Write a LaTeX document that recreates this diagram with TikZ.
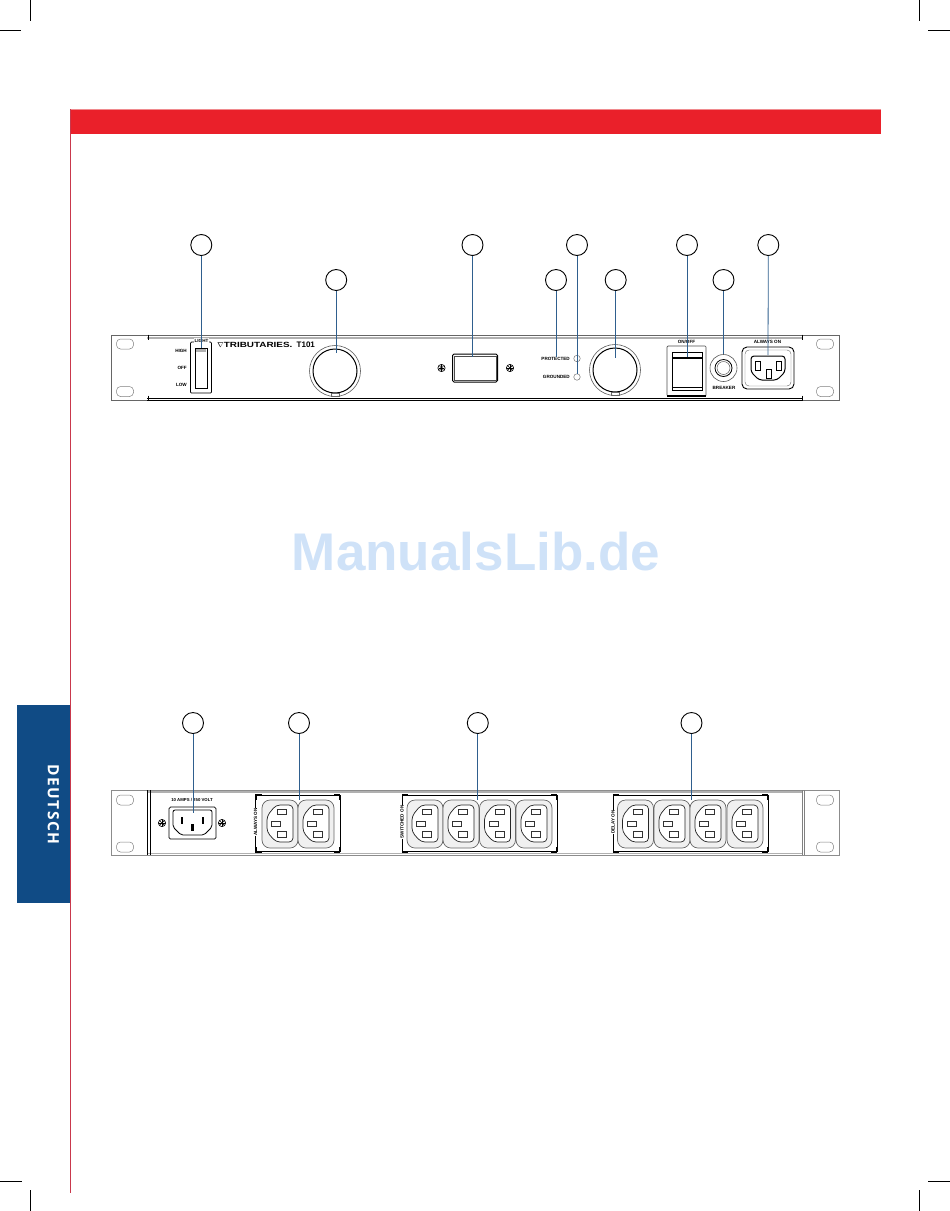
\documentclass[tikz,border=0pt]{standalone}
\usepackage{fontspec}
\setmainfont{Liberation Sans}
\newfontfamily\tabfont[LetterSpace=9]{Open Sans}
\usetikzlibrary{positioning}
\definecolor{pagered}{HTML}{EA202A}
\definecolor{palered}{HTML}{F08A8E}
\definecolor{edgered}{HTML}{C9384C}
\definecolor{tabblue}{HTML}{104B85}
\definecolor{leaderblue}{HTML}{2F5F8E}
\definecolor{markblue}{HTML}{CFE2F8}
\definecolor{rimgrey}{HTML}{B0B0B0}
\tikzset{
  callout/.style={circle,draw=black,line width=0.9pt,minimum size=21pt,inner sep=0pt},
  leader/.style={leaderblue,line width=0.8pt},
  panel/.style={draw=black!60,line width=0.7pt},
  part/.style={draw=black,line width=0.7pt},
  ring/.style={circle,draw=black!65,line width=0.6pt,inner sep=0pt},
  tiny/.style={font=\bfseries\fontsize{4.6}{5}\selectfont,inner sep=0pt},
  crop/.style={black,line width=0.7pt},
  pics/outlet/.style={code={
    \draw[draw=black!60,fill=black!6,line width=0.7pt,rounded corners=8pt] (-18,-24) rectangle (18,24);
    \draw[black!85,fill=white,line width=0.7pt,rounded corners=4pt] (-13,-8) -- (-4,-19) -- (13,-19) -- (13,18) -- (-4,18) -- (-13,8) -- cycle;
    \draw[black!80,line width=0.5pt] (-2.3,-15) rectangle (6.7,-9.5);
    \draw[black!80,line width=0.5pt] (-8.3,-3.2) rectangle (0.7,2.2);
    \draw[black!80,line width=0.5pt] (-2.3,7.7) rectangle (6.7,13);
  }},
  pics/screw/.style={code={
    \draw[line width=0.7pt] (0,0) circle (3.6);
    \draw[line width=0.7pt] (-2.6,0) -- (2.6,0) (0,-2.6) -- (0,2.6);
    \draw[line width=0.4pt] (-1.8,-1.8) -- (1.8,1.8) (-1.8,1.8) -- (1.8,-1.8);
  }},
  pics/earhole/.style={code={
    \draw[black!50,line width=0.5pt,rounded corners=4pt] (-8.5,-5) rectangle (8.5,5);
  }}
}
\begin{document}
\begin{tikzpicture}[x=1pt,y=-1pt]
\useasboundingbox (0,0) rectangle (950,1211);
% Crop marks
\draw[crop] (30.5,0) -- (30.5,21);
\draw[crop] (0,30.5) -- (21,30.5);
\draw[crop] (919.5,0) -- (919.5,21);
\draw[crop] (928,30.5) -- (950,30.5);
\draw[crop] (30.5,1190) -- (30.5,1211);
\draw[crop] (0,1181.5) -- (22,1181.5);
\draw[crop] (919.5,1190) -- (919.5,1211);
\draw[crop] (928,1181.5) -- (950,1181.5);
% Page furniture
\fill[pagered] (70,109) rectangle (880.5,134);
\draw[palered,line width=0.7pt] (70,109.5) -- (880.5,109.5);
\draw[edgered,line width=0.8pt] (70.5,109) -- (70.5,1193);
\fill[tabblue] (17,705) rectangle (70,903);
\node[white,rotate=-90,inner sep=0pt,font=\tabfont\bfseries\fontsize{15.5}{17}\selectfont] (tabtext) at (53.5,804.5) {DEUTSCH};
\node[markblue,font=\bfseries\fontsize{53}{53}\selectfont,inner sep=0pt] (watermark) at (476,552) {ManualsLib.de};
% Front panel
\draw[panel] (111,335.5) rectangle (839,400.5);
\draw[rimgrey,line width=2pt] (147,337.8) -- (802,337.8);
\draw[black,line width=0.9pt] (147,398) -- (802,398);
\draw[black,line width=0.9pt] (147,400.3) -- (802,400.3);
\foreach \x in {148,802}
  \foreach \y in {337,398} \draw[line width=0.7pt] (\x,\y-2.5) -- (\x,\y+2.5);
\foreach \x in {125,825}
  \foreach \y in {344,391.5} \pic at (\x,\y) {earhole};
% Light switch
\node[part,rounded corners=1pt,minimum width=21pt,minimum height=51pt,inner sep=0pt] (lightframe) at (201,367.5) {};
\node[part,line width=1pt,minimum width=12pt,minimum height=40pt,inner sep=0pt] (lightrocker) at (201,368) {};
\fill[rimgrey] (196,349) rectangle (206,351.5);
\node[tiny,fill=white,inner sep=0.4pt] (lightlabel) at (201.5,340.5) {LIGHT};
\node[tiny,anchor=east] (lighthigh) at (187,351) {HIGH};
\node[tiny,anchor=east] (lightoff) at (187,368) {OFF};
\node[tiny,anchor=east] (lightlow) at (187,385) {LOW};
% Logo
\node[anchor=west,inner sep=0pt,font=\bfseries\fontsize{7.5}{8}\selectfont] (logo) at (217,344.5) {$\nabla$\scalebox{1.32}[1]{TRIBUTARIES.}};
\node[anchor=west,inner sep=0pt,font=\bfseries\fontsize{8}{8}\selectfont] (model) at (296.5,344.5) {T101};
% Dimmer and meter
\node[ring,minimum size=51pt] (dimmerouter) at (335,371) {};
\node[ring,part,line width=1pt,minimum size=44pt] (dimmer) at (335,371) {};
\draw[black!60,line width=0.5pt] (331,393) rectangle (339,396);
\node[part,line width=1pt,rounded corners=1.5pt,minimum width=45pt,minimum height=28pt,inner sep=0pt] (display) at (475,368) {};
\draw[black!70,line width=0.4pt] (454,356) rectangle (496,380);
\pic at (441.5,368) {screw};
\pic at (510,368) {screw};
% Status lights
\node[tiny,anchor=east] (protectedtext) at (570,358.5) {PROTECTED};
\node[tiny,anchor=east] (groundedtext) at (570,377) {GROUNDED};
\node[ring,line width=0.4pt,minimum size=6.5pt] (protectedled) at (577,358.5) {};
\node[ring,line width=0.4pt,minimum size=6.5pt] (groundedled) at (577,377) {};
% Voltage knob
\node[ring,minimum size=51pt] (knobouter) at (615,370) {};
\node[ring,part,line width=1pt,minimum size=44pt] (knob) at (615,370) {};
\draw[black!60,line width=0.5pt] (611,392) rectangle (619,395);
% Power switch
\node[part,draw=black!70,rounded corners=1pt,minimum width=39pt,minimum height=50pt,inner sep=0pt] (powerframe) at (686.5,371) {};
\node[part,line width=0.9pt,minimum width=30pt,minimum height=38pt,inner sep=0pt] (powerrocker) at (687,371) {};
\draw[line width=1.2pt] (672,358) -- (702,358);
\draw[line width=0.7pt] (672,387) -- (702,387);
\draw[line width=1.2pt] (667,396) -- (706,396);
\node[tiny,fill=white,inner sep=0.4pt] (powerlabel) at (686.5,342) {ON/OFF};
% Breaker
\node[ring,minimum size=27pt] (breakerouter) at (723.5,368) {};
\node[ring,part,line width=0.8pt,minimum size=17pt] (breaker) at (723.5,368) {};
\node[ring,line width=0.5pt,minimum size=13pt] (breakercap) at (723.5,368) {};
\node[tiny] (breakerlabel) at (724,388) {BREAKER};
% Always-on outlet
\node[tiny] (frontlabel) at (767.5,342) {ALWAYS ON};
\node[part,line width=0.9pt,rounded corners=5pt,minimum width=52pt,minimum height=42pt,inner sep=0pt] (frontoutlet) at (768,368) {};
\draw[black!60,line width=0.4pt,rounded corners=4pt] (745,350) rectangle (791,386);
\draw[black,line width=1pt,rounded corners=3pt] (751,356) -- (785,356) -- (785,372) -- (777,380) -- (759,380) -- (751,372) -- cycle;
\draw[line width=0.5pt] (755,361) rectangle (760,370);
\draw[line width=0.5pt] (776,361) rectangle (781,370);
\draw[line width=0.5pt] (766,369) rectangle (771,378);
\coordinate (frontpin) at (768,355);
% Rear panel
\draw[panel,draw=black!45] (111,790) rectangle (839,855);
\draw[rimgrey,line width=1.6pt] (147,792) -- (802,792);
\draw[rimgrey,line width=1.2pt] (147,853.5) -- (802,853.5);
\draw[black,line width=0.9pt] (147.5,790) -- (147.5,855);
\draw[black,line width=0.9pt] (150,790) -- (150,855);
\draw[black!50,line width=0.6pt] (802,790) -- (802,855);
\draw[black!50,line width=0.6pt] (804,790) -- (804,855);
\foreach \x in {125,825}
  \foreach \y in {800,847} \pic at (\x,\y) {earhole};
% Mains inlet
\node[tiny,font=\bfseries\fontsize{4.3}{5}\selectfont] (inletlabel) at (192,800) {10 AMPS / 250 VOLT};
\node[part,rounded corners=1.5pt,minimum width=47pt,minimum height=32pt,inner sep=0pt] (inlet) at (192.5,823) {};
\draw[line width=0.8pt,rounded corners=2pt] (173,810) -- (212,810) -- (212,827) -- (204,835) -- (181,835) -- (173,827) -- cycle;
\foreach \x/\y in {182/820,203/820,192.5/827} \fill[black] (\x-1.4,\y-3.5) rectangle (\x+1.4,\y+3.5);
\pic at (162,823) {screw};
\pic at (222,823) {screw};
% Outlet groups
\foreach \xa/\xb/\name in {255.5/340/always,402/557/switched,613/768/delay} {
  \draw[line width=0.8pt] (\xa,795.5) rectangle (\xb,851.5);
  \draw[line width=1.6pt] (\xa+0.5,800) -- (\xa+0.5,795) -- (\xa+6,795);
  \draw[line width=1.6pt] (\xa+0.5,847) -- (\xa+0.5,852) -- (\xa+6,852);
  \draw[line width=1.6pt] (\xb-0.5,800) -- (\xb-0.5,795) -- (\xb-6,795);
  \draw[line width=1.6pt] (\xb-0.5,847) -- (\xb-0.5,852) -- (\xb-6,852);
}
\foreach \x in {280,316,425,461,497.5,534,635.5,672,708,745} \pic at (\x,824) {outlet};
\node[tiny,rotate=90,fill=white,inner sep=0.5pt] (alwaystext) at (255.5,822) {ALWAYS ON};
\node[tiny,rotate=90,fill=white,inner sep=0.5pt] (switchedtext) at (402,822) {SWITCHED ON};
\node[tiny,rotate=90,fill=white,inner sep=0.5pt] (delaytext) at (613,822) {DELAY ON};
% Callouts
\foreach \name/\x/\y in {a/201.3/245,b/336.2/280,c/472.5/245,d/556/280,e/577/245,f/615.7/280,g/687/245,h/723.5/280,i/768.3/245,j/193/723,k/299/723,l/477.8/723,m/691.5/723}
  \node[callout] (\name) at (\x,\y) {};
\coordinate (inletpin) at (193,813);
\coordinate (alwayspin) at (299,800);
\coordinate (switchedpin) at (477.8,800);
\coordinate (delaypin) at (691.5,800);
% Leaders
\draw[leader] (a.south) -- (a.south |- lightrocker.north);
\draw[leader] (b.south) -- (b.south |- 0,353);
\draw[leader] (c.south) -- (c.south |- 0,357);
\draw[leader] (d.south) -- (d.south |- protectedtext.north);
\draw[leader] (e.south) -- (groundedled.north);
\draw[leader] (f.south) -- (f.south |- 0,358);
\draw[leader] (g.south) -- (g.south |- 0,357);
\draw[leader] (h.south) -- (breakerouter.north);
\draw[leader] (i.south) -- (frontpin);
\draw[leader] (j.south) -- (inletpin);
\draw[leader] (k.south) -- (alwayspin);
\draw[leader] (l.south) -- (switchedpin);
\draw[leader] (m.south) -- (delaypin);
\end{tikzpicture}
\end{document}
